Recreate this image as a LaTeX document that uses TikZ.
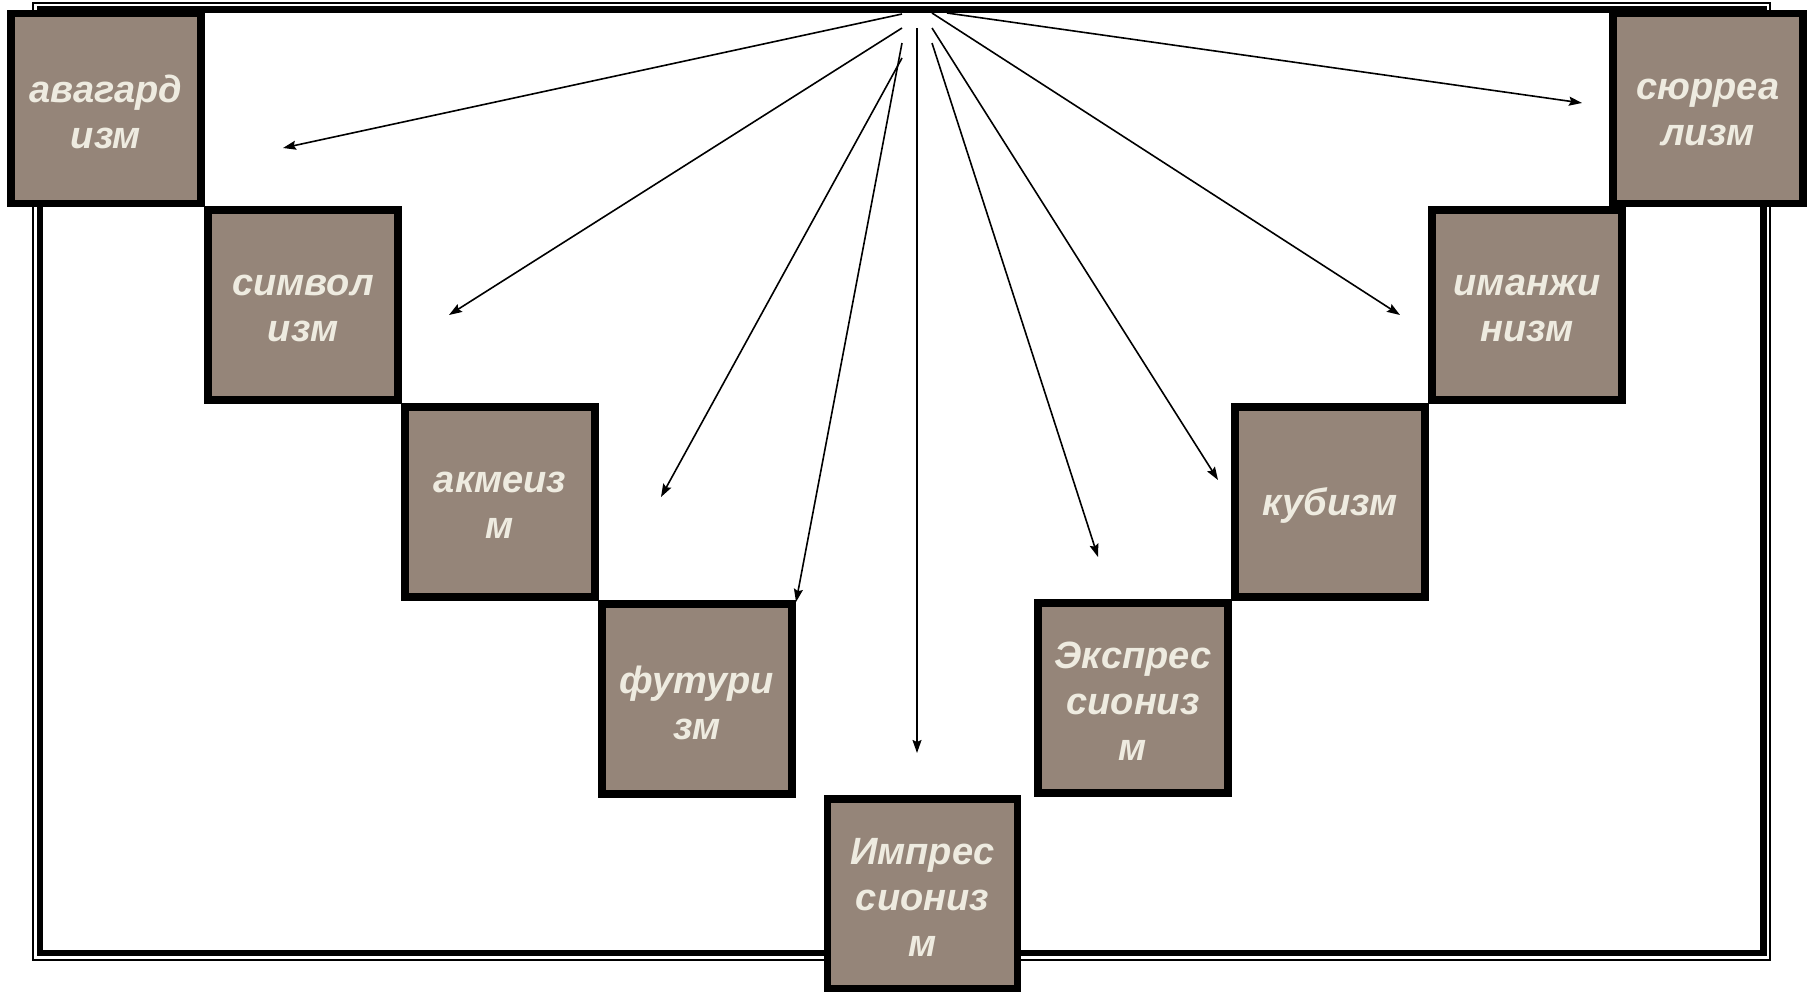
\documentclass[tikz,border=0pt]{standalone}
\usepackage{fontspec}
\setmainfont{Liberation Sans}
\usetikzlibrary{arrows.meta}
\definecolor{boxfill}{RGB}{149,133,121}
\definecolor{boxtext}{RGB}{238,235,224}
\tikzset{
  stair/.style={draw=black, line width=3.75pt, fill=boxfill, minimum width=95pt, minimum height=95pt,
    inner sep=0pt},
  stairtext/.style={align=center, text=boxtext, inner sep=0pt, yshift=-1.75pt,
    font=\fontsize{19}{23}\selectfont\bfseries\itshape},
  ray/.style={line width=0.8pt, -{Stealth[length=6.5pt,width=4.5pt,inset=1pt]}}
}
\begin{document}
\begin{tikzpicture}[x=0.5pt,y=-0.5pt]
\useasboundingbox (0,0) rectangle (1814,991);
\fill[white] (0,0) rectangle (1814,991);
% frame
\draw[line width=0.75pt] (33,3) rectangle (1770,960);
\draw[line width=3.25pt] (40,9.5) rectangle (1763.5,953);
% ray coordinates
\coordinate (s1) at (902,14);   \coordinate (e1) at (283,148);
\coordinate (s2) at (902,28);   \coordinate (e2) at (449,315);
\coordinate (s3) at (902,58);   \coordinate (e3) at (661,497);
\coordinate (s4) at (902,43);   \coordinate (e4) at (796,602);
\coordinate (s5) at (917,28);   \coordinate (e5) at (917,753);
\coordinate (s6) at (932,43);   \coordinate (e6) at (1098,557);
\coordinate (s7) at (932,28);   \coordinate (e7) at (1218,480);
\coordinate (s8) at (932,13);   \coordinate (e8) at (1400,315);
\coordinate (s9) at (947,13);   \coordinate (e9) at (1582,103);
\foreach \i in {1,...,9} {\draw[ray] (s\i) -- (e\i);}
% boxes
\node[stair, label={[stairtext]center:{авагард\\изм}}] (avg) at (106,108.5) {};
\node[stair, label={[stairtext]center:{символ\\изм}}] (sym) at (303,305) {};
\node[stair, label={[stairtext]center:{акмеиз\\м}}] (akm) at (500,502) {};
\node[stair, label={[stairtext]center:{футури\\зм}}] (fut) at (697,699) {};
\node[stair, label={[stairtext]center:{Импрес\\сиониз\\м}}] (imp) at (922.5,894) {};
\node[stair, label={[stairtext]center:{Экспрес\\сиониз\\м}}] (exp) at (1133,698) {};
\node[stair, label={[stairtext]center:{кубизм}}] (kub) at (1330,502) {};
\node[stair, label={[stairtext]center:{иманжи\\низм}}] (ima) at (1527,305) {};
\node[stair, label={[stairtext]center:{сюрреа\\лизм}}] (sur) at (1708,108.5) {};
\end{tikzpicture}
\end{document}
